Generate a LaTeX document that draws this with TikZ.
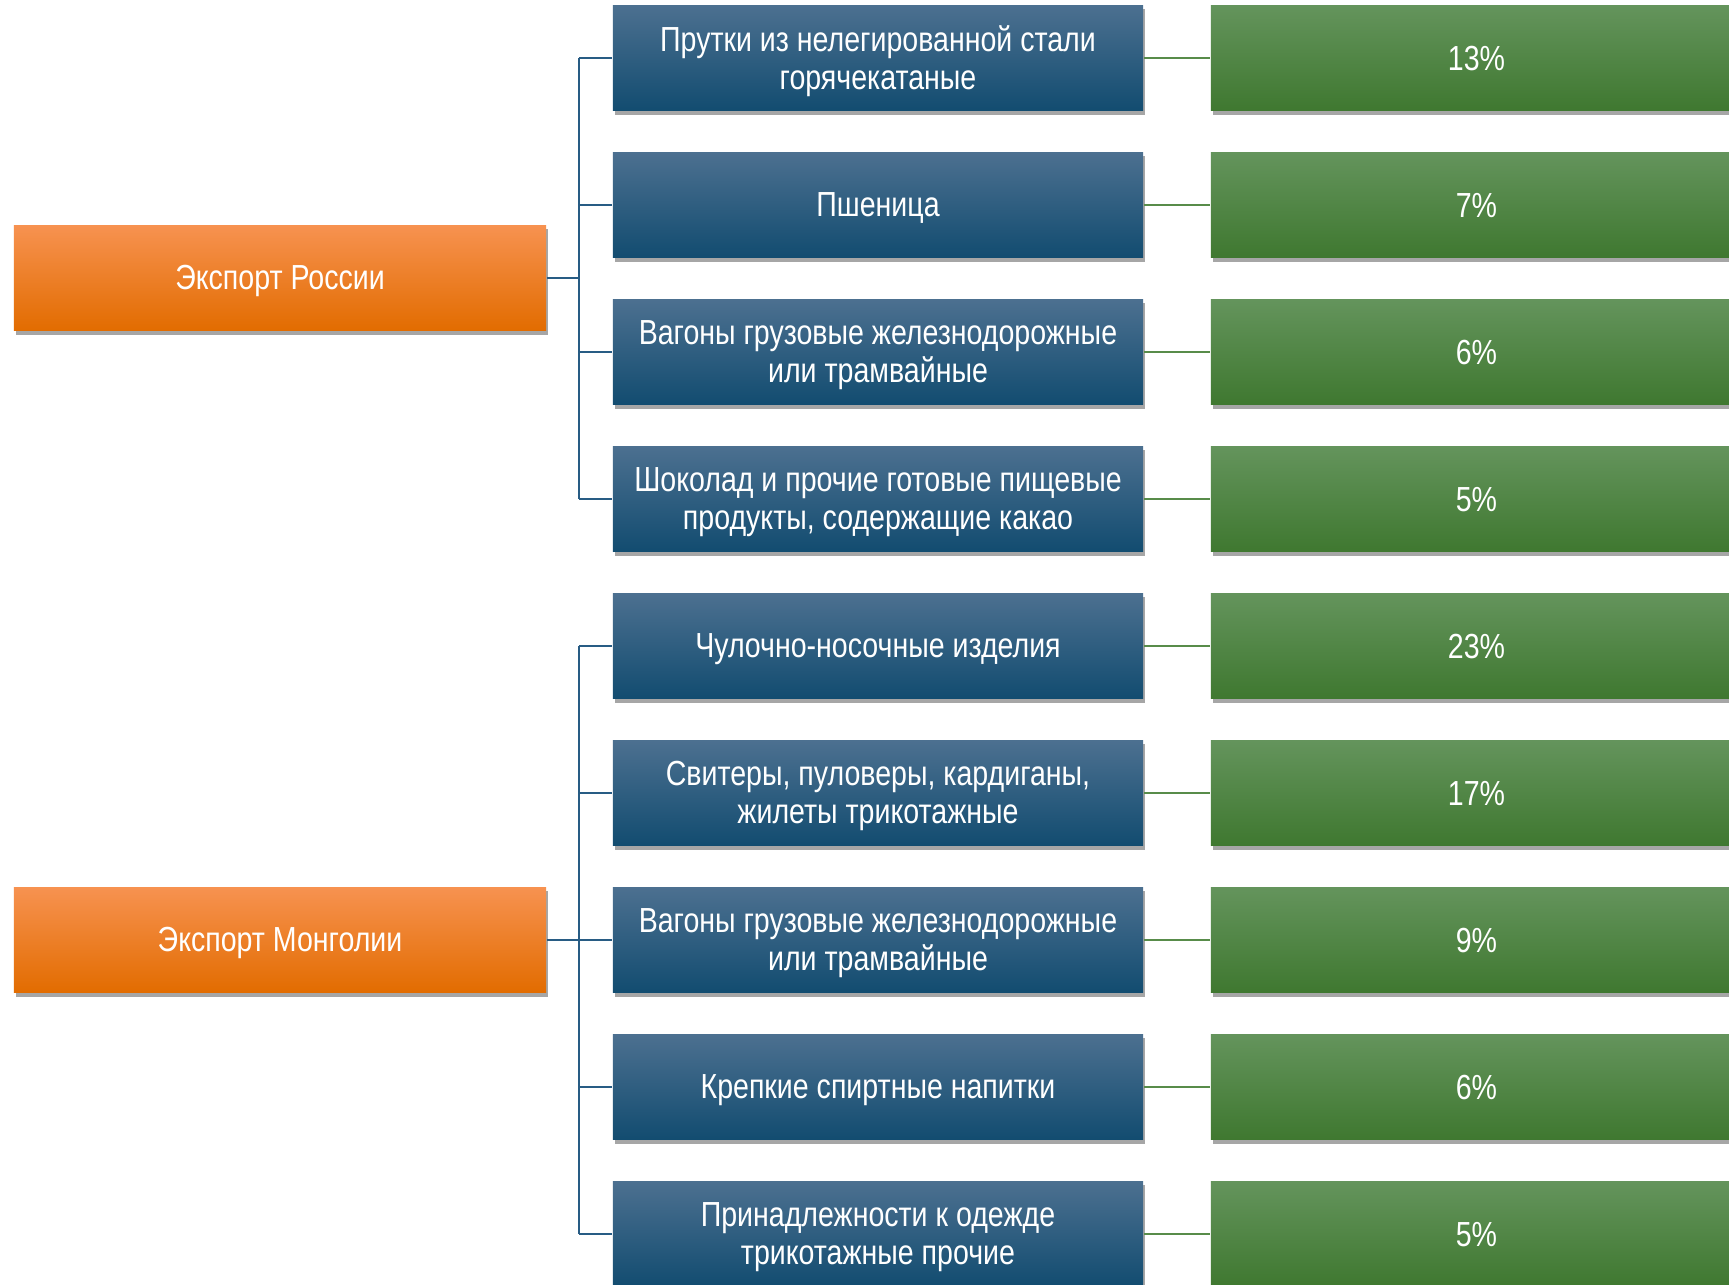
\documentclass[tikz,border=0pt]{standalone}
\usepackage{fontspec}
\setmainfont{Liberation Sans}[FakeStretch=0.82]
\usetikzlibrary{shadows}
\definecolor{bluetop}{RGB}{76,112,144}
\definecolor{bluemid}{RGB}{22,86,128}
\definecolor{bluebot}{RGB}{18,76,112}
\definecolor{orgtop}{RGB}{247,146,80}
\definecolor{orgmid}{RGB}{249,131,0}
\definecolor{orgbot}{RGB}{226,108,0}
\definecolor{grntop}{RGB}{100,148,92}
\definecolor{grnmid}{RGB}{75,136,60}
\definecolor{grnbot}{RGB}{63,120,48}
\definecolor{bline}{RGB}{40,92,132}
\definecolor{gline}{RGB}{88,140,74}
\tikzset{
  txtlab/.style={text=white, align=center, inner sep=0pt, yshift=-0.03cm,
    font=\fontsize{9.9}{10.7}\selectfont},
  boxbase/.style={rectangle, inner sep=0pt,
    drop shadow={shadow xshift=0.02cm, shadow yshift=-0.04cm, opacity=0.35, fill=black}},
  orangebox/.style={boxbase, minimum width=5.32cm, minimum height=1.05cm,
    top color=orgtop, middle color=orgmid, bottom color=orgbot},
  bluebox/.style={boxbase, minimum width=5.30cm, minimum height=1.05cm,
    top color=bluetop, middle color=bluemid, bottom color=bluebot},
  greenbox/.style={boxbase, minimum width=5.49cm, minimum height=1.05cm,
    top color=grntop, middle color=grnmid, bottom color=grnbot},
  bconn/.style={draw=bline, line width=0.024cm},
  gconn/.style={draw=gline, line width=0.024cm},
}
\begin{document}
\begin{tikzpicture}[x=0.01cm,y=-0.01cm]
\useasboundingbox (0,0) rectangle (1729,1285);
\clip (0,0) rectangle (1729,1285);
\fill[white] (0,0) rectangle (1729,1285);
\coordinate (rv) at (579,0);

\node[orangebox, label={[txtlab]center:Экспорт России}] (rus) at (280,278) {};
\node[orangebox, label={[txtlab]center:Экспорт Монголии}] (mon) at (280,940) {};

\foreach \i/\txt/\pct in {
  1/{Прутки из нелегированной стали\\горячекатаные}/13\%,
  2/{Пшеница}/7\%,
  3/{Вагоны грузовые железнодорожные\\или трамвайные}/6\%,
  4/{Шоколад и прочие готовые пищевые\\продукты, содержащие какао}/5\%,
  5/{Чулочно-носочные изделия}/23\%,
  6/{Свитеры, пуловеры, кардиганы,\\жилеты трикотажные}/17\%,
  7/{Вагоны грузовые железнодорожные\\или трамвайные}/9\%,
  8/{Крепкие спиртные напитки}/6\%,
  9/{Принадлежности к одежде\\трикотажные прочие}/5\%} {
  \node[bluebox, label={[txtlab]center:\txt}] (b\i) at (878,{58+147*(\i-1)}) {};
  \node[greenbox, label={[txtlab, yshift=0.02cm, xshift=-0.09cm]center:\pct}] (g\i) at (1485.5,{58+147*(\i-1)}) {};
  \draw[gconn] (b\i.east) -- (g\i.west);
  \draw[bconn] (b\i.west -| rv) -- (b\i.west);
}

\draw[bconn] (rus.east) -- (rus.east -| rv);
\draw[bconn] (b1.west -| rv) -- (b4.west -| rv);
\draw[bconn] (mon.east) -- (mon.east -| rv);
\draw[bconn] (b5.west -| rv) -- (b9.west -| rv);
\end{tikzpicture}
\end{document}
